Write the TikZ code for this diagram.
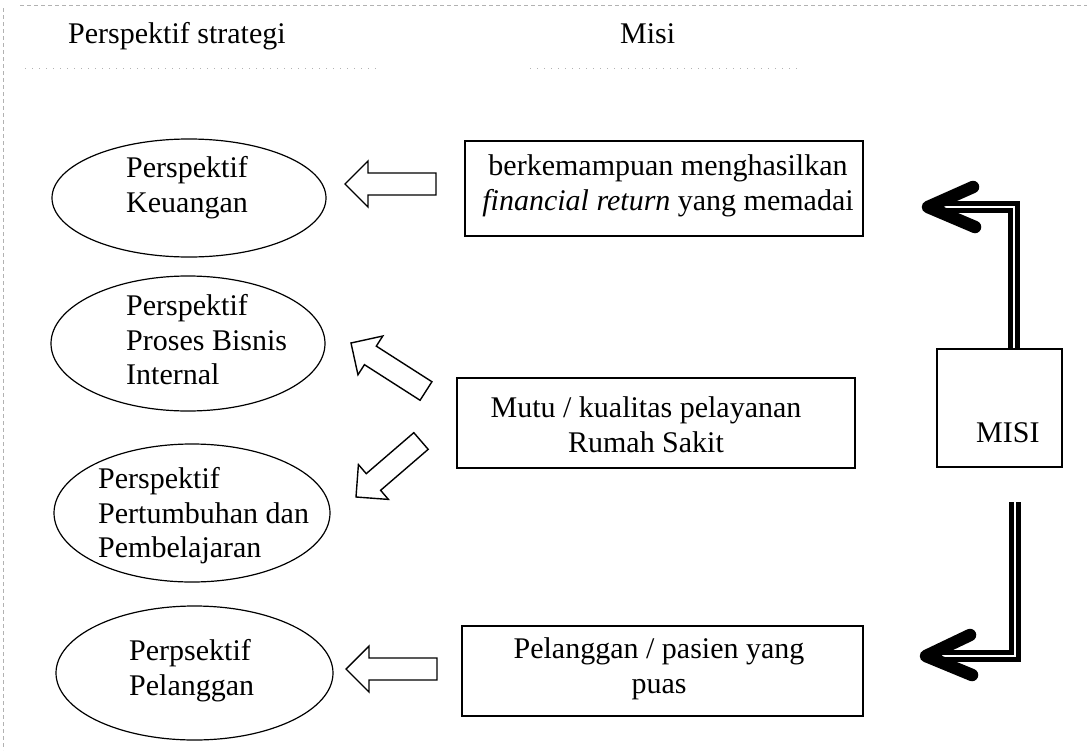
\documentclass[tikz,border=0pt]{standalone}
\usepackage{fontspec}
\setmainfont{Liberation Serif}
\usetikzlibrary{calc,shapes.geometric}

% hollow block arrow from a tail point #1 to a tip point #2; #3 names its head base
\newcommand{\blockarrow}[3]{%
  \coordinate (#3-h) at ($(#2)!23pt!(#1)$);
  \draw[blockarr] (#2) -- ($(#3-h)!23pt!90:(#2)$) -- ($(#3-h)!11pt!90:(#2)$)
    -- ($(#1)!11pt!90:(#2)$) -- ($(#1)!11pt!-90:(#2)$)
    -- ($(#3-h)!11pt!-90:(#2)$) -- ($(#3-h)!23pt!-90:(#2)$) -- cycle;}

\begin{document}
\begin{tikzpicture}[x=1pt,y=-1pt,
  every node/.style={font=\fontsize{30}{34.5}\selectfont},
  ell/.style={draw, ellipse, line width=1.2pt, inner sep=0pt},
  box/.style={draw, rectangle, line width=1.2pt, inner sep=0pt},
  lbl/.style={inner sep=0pt, align=left},
  clbl/.style={inner sep=0pt, align=center, anchor=north},
  blockarr/.style={draw, fill=white, line width=1.4pt, line join=miter},
  misiline/.style={draw, line width=5.4pt, double=white, double distance=1.6pt, line join=miter},
  misihead/.style={draw, line width=12.5pt, line cap=round, line join=round},
  scan/.style={black!30, line width=0.8pt, dash pattern=on 4pt off 3pt}]

% page
\fill[white] (0,0) rectangle (1087,755);
\useasboundingbox (0,0) rectangle (1087,755);

% faint page edges
\draw[scan] (3,8) -- (3,750);
\draw[scan] (20,5) -- (1087,5);
\draw[scan, dash pattern=on 1pt off 6pt] (25,68) -- (380,68);
\draw[scan, dash pattern=on 1pt off 6pt] (530,68) -- (800,68);

% column headings
\node[inner sep=0pt, anchor=base west] (hpers) at (68,43) {Perspektif strategi};
\node[inner sep=0pt, anchor=base west] (hmisi) at (620,43) {Misi};

% perspectives
\node[ell, minimum width=274pt, minimum height=118pt] (keu) at (189,198) {};
\node[lbl, anchor=north west] (keut) at (126,156.5) {Perspektif\\Keuangan};

\node[ell, minimum width=274pt, minimum height=135pt] (pbi) at (188,343.5) {};
\node[lbl, anchor=north west] (pbit) at (126,294.5) {Perspektif\\Proses Bisnis\\Internal};

\node[ell, minimum width=276pt, minimum height=138pt] (pdp) at (192,513) {};
\node[lbl, anchor=north west] (pdpt) at (98,467.5) {Perspektif\\Pertumbuhan dan\\Pembelajaran};

\node[ell, minimum width=277pt, minimum height=134pt] (pel) at (194.5,673) {};
\node[lbl, anchor=north west] (pelt) at (129,639.5) {Perpsektif\\Pelanggan};

% mission statements
\node[box, minimum width=398pt, minimum height=95pt] (fin) at (664,188.5) {};
\node[clbl] (fint) at (668,154.5) {berkemampuan menghasilkan\\\textit{financial return} yang memadai};

\node[box, minimum width=398pt, minimum height=90pt] (mutu) at (656,423) {};
\node[clbl] (mutut) at (646,396.5) {Mutu / kualitas pelayanan\\Rumah Sakit};

\node[box, minimum width=401pt, minimum height=90pt] (pas) at (662.5,671) {};
\node[clbl] (past) at (659,637.5) {Pelanggan / pasien yang\\puas};

\node[box, minimum width=125pt, minimum height=118pt] (misi) at (999.5,408) {};
\node[inner sep=0pt, anchor=base west] (misit) at (976,442) {MISI};

% hollow arrows towards the perspectives
\coordinate (a1t) at (436,184); \coordinate (a1p) at (345,184);
\coordinate (a2t) at (426,391); \coordinate (a2p) at (351,343);
\coordinate (a3t) at (421,441); \coordinate (a3p) at (356,497);
\coordinate (a4t) at (437,669); \coordinate (a4p) at (346,669);
\blockarrow{a1t}{a1p}{a1}
\blockarrow{a2t}{a2p}{a2}
\blockarrow{a3t}{a3p}{a3}
\blockarrow{a4t}{a4p}{a4}

% heavy arrows leaving MISI
\coordinate (c1) at (1014,207);
\coordinate (s1) at (944,207);
\coordinate (t1) at (928,207);
\draw[misiline] (misi.north -| c1) -- (c1) -- (s1);
\draw[misihead] ($(t1)+(45,-20)$) -- (t1) -- ($(t1)+(47,20)$);

\coordinate (b0) at (1015,502);
\coordinate (c2) at (1015,656);
\coordinate (s2) at (942,656);
\coordinate (t2) at (926,656);
\draw[misiline] (b0) -- (c2) -- (s2);
\draw[misihead] ($(t2)+(44,-21)$) -- (t2) -- ($(t2)+(46,19)$);
\end{tikzpicture}
\end{document}
